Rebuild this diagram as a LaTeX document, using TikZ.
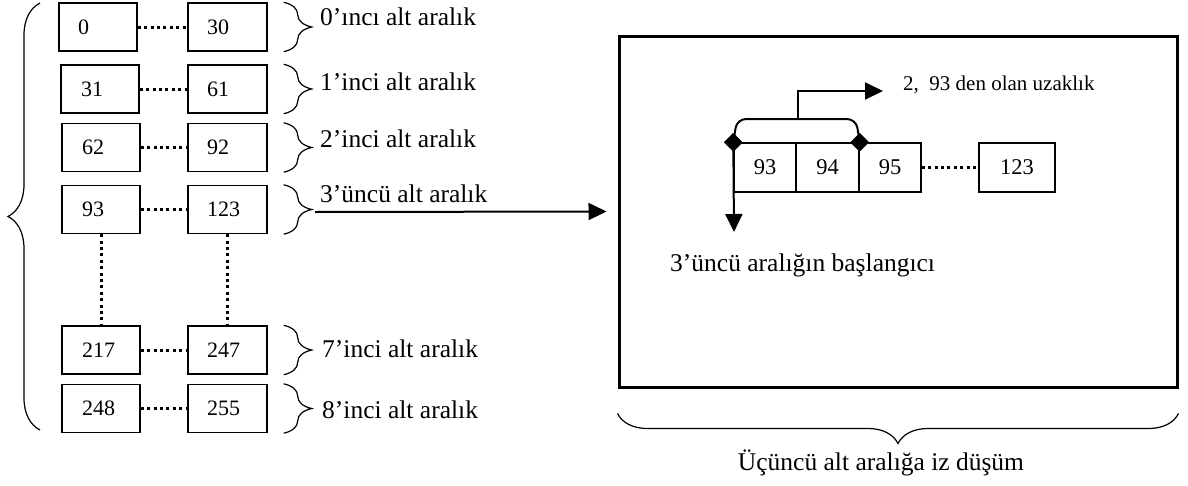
\documentclass[tikz,border=0pt]{standalone}
\usepackage{fontspec}
\setmainfont{Liberation Serif}
\usetikzlibrary{arrows.meta,decorations.pathreplacing,shapes.geometric,calc}
\begin{document}
\begin{tikzpicture}[x=1pt,y=-1pt,
  lbox/.style={draw,line width=1.4pt,minimum height=48pt,inner xsep=0pt,inner ysep=0pt,text width=78pt,align=left,font=\fontsize{22}{24}\selectfont},
  rbox/.style={lbox,text width=79pt},
  ibox/.style={draw,line width=1.4pt,minimum height=49pt,inner sep=0pt,font=\fontsize{22.5}{24}\selectfont},
  lab/.style={anchor=base west,inner sep=0pt,font=\fontsize{25.5}{28}\selectfont},
  dots/.style={line width=3pt,dash pattern=on 3pt off 3.4pt},
  brc/.style={decorate,decoration={brace,amplitude=28pt},line width=1.2pt},
  arr/.style={line width=2pt,-{Triangle[length=18pt,width=17pt]}},
  dia/.style={diamond,fill=black,inner sep=0pt,minimum width=19pt,minimum height=19pt}
]
\useasboundingbox (0,0) rectangle (1188,485);

% left column of boxes
\node[lbox] (a0) at (98,27)    {\hspace*{19pt}0};
\node[rbox] (b0) at (227.5,27) {\hspace*{19pt}30};
\node[lbox] (a1) at (100,89)   {\hspace*{20pt}31};
\node[rbox] (b1) at (227.5,89) {\hspace*{19pt}61};
\node[lbox] (a2) at (101,147.5){\hspace*{20pt}62};
\node[rbox] (b2) at (227.5,147.5){\hspace*{19pt}92};
\node[lbox] (a3) at (101,209.5){\hspace*{20pt}93};
\node[rbox] (b3) at (227.5,209.5){\hspace*{19pt}123};
\node[lbox] (a7) at (101,350)  {\hspace*{20pt}217};
\node[rbox] (b7) at (227.5,350){\hspace*{19pt}247};
\node[lbox] (a8) at (101,408.5){\hspace*{20pt}248};
\node[rbox] (b8) at (227.5,408.5){\hspace*{19pt}255};

\foreach \r in {0,1,2,3,7,8}{\draw[dots] (a\r.east) -- (b\r.west);}
\draw[dots] (a3.south) -- (a7.north);
\draw[dots] (b3.south) -- (b7.north);

% big left brace
\draw[brc,decoration={amplitude=32pt}] (40,430) -- (40,3);

% small braces and labels
\foreach \r in {0,1,2,3,7,8}{
  \draw[brc] ($(b\r.north east)+(16,0)$) -- ($(b\r.south east)+(16,0)$);
}
\node[lab] (l0) at (320,25)  {0’ıncı alt aralık};
\node[lab] (l1) at (320,90)  {1’inci alt aralık};
\node[lab] (l2) at (320,147) {2’inci alt aralık};
\node[lab] (l3) at (320,202) {3’üncü alt aralık};
\node[lab] (l7) at (322,357) {7’inci alt aralık};
\node[lab] (l8) at (322,418) {8’inci alt aralık};

% big box
\node[draw,line width=3pt,minimum width=558pt,minimum height=351pt,inner sep=0pt] (big) at (898,211.5) {};
\coordinate (s3) at (315,212);
\draw[arr] (s3) -- ($(big.west)+(-11,0)$);

% inner boxes
\node[ibox,minimum width=62pt] (i93) at (765,167.5) {93};
\node[ibox,minimum width=63pt] (i94) at (827.5,167.5) {94};
\node[ibox,minimum width=62pt] (i95) at (890,167.5) {95};
\node[ibox,minimum width=76pt] (i123) at (1017,167.5) {123};
\draw[dots] (i95.east) -- (i123.west);

\node[dia] (d1) at (i93.north west) {};
\node[dia] (d2) at (i94.north east) {};
\draw[line width=2pt,rounded corners=9pt] (d1.center) -- (737,119) -- (856,119) -- (d2.center);
\coordinate (st) at (798,119);
\coordinate (sr) at (883,91);
\draw[arr] (st) |- (sr);
\coordinate (dn) at (734,232);
\draw[arr] (d1.center) -- (dn);

\node[lab,font=\fontsize{21}{24}\selectfont] (uz) at (903,90) {2,\ \ 93 den olan uzaklık};
\node[lab] (bs) at (670,271) {3’üncü aralığın başlangıcı};

% bottom brace
\draw[brc,decoration={amplitude=30pt}] ($(big.south east)+(0,25)$) -- ($(big.south west)+(0,25)$);
\node[lab,anchor=base] (iz) at (881,470) {Üçüncü alt aralığa iz düşüm};
\end{tikzpicture}
\end{document}
